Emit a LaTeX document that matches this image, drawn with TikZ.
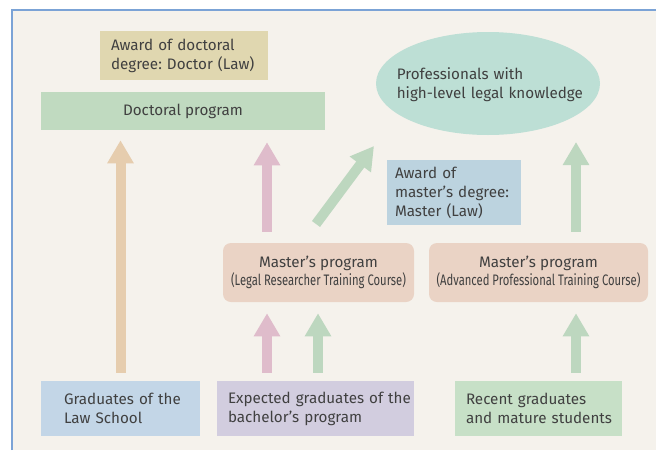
\documentclass[tikz,border=0pt]{standalone}
\usepackage{fontspec}
\usepackage{graphicx}
\setmainfont{Fira Sans}
\usetikzlibrary{arrows.meta,shapes.geometric}
\definecolor{bgc}{HTML}{F5F2EC}
\definecolor{framec}{HTML}{7BA3D6}
\definecolor{txtc}{HTML}{404040}
\definecolor{awdc}{HTML}{E0D7B0}
\definecolor{docc}{HTML}{C0DAC0}
\definecolor{ellc}{HTML}{BDDFD5}
\definecolor{awmc}{HTML}{BCD3DF}
\definecolor{masc}{HTML}{EAD3C5}
\definecolor{gradc}{HTML}{C3D6E7}
\definecolor{expc}{HTML}{D2CDDF}
\definecolor{recc}{HTML}{C7E0C7}
\definecolor{orac}{HTML}{E6CDAE}
\definecolor{pinkc}{HTML}{DFBCCB}
\definecolor{grnc}{HTML}{BDD7BF}
\newcommand{\cond}[1]{\scalebox{0.74}[1]{#1}}
\newcommand{\nb}[1]{\mbox{#1}}
\tikzset{
  box/.style={draw=none, rectangle, inner ysep=0pt, text=txtc,
    font=\fontsize{11.4pt}{14.25pt}\selectfont\frenchspacing},
  bigarrow/.style={line width=7.5pt, -{Triangle[width=18.75pt,length=17.25pt]}},
}
\begin{document}
\begin{tikzpicture}[x=0.75pt,y=-0.75pt]
\useasboundingbox (0,0) rectangle (656,450);
\fill[white] (0,0) rectangle (656,450);
\fill[bgc] (12,10) rectangle (656,450);
\draw[framec, line width=1.5pt] (12,450) -- (12,10) -- (656,10);

% nodes
\node[box, fill=awdc, minimum width=126pt, minimum height=36.75pt,
  text width=109.5pt, inner xsep=8.25pt, align=left] (awd) at (184,55.5)
  {\nb{Award of doctoral}\\\nb{degree: Doctor (Law)}};
\node[box, fill=docc, minimum width=213pt, minimum height=28.5pt, align=center] (doc) at (183,111)
  {Doctoral program};
\node[box, ellipse, fill=ellc, minimum width=168pt, minimum height=77.25pt, inner sep=0pt] (ell) at (488,83.5) {};
\node[box, text width=139pt, align=left] (elltext) at (489.5,84.5)
  {\nb{Professionals with}\\\nb{high-level legal knowledge}};
\node[box, fill=awmc, minimum width=100.5pt, minimum height=48.75pt,
  text width=88.5pt, inner xsep=6pt, align=left] (awm) at (454,192.5)
  {\nb{Award of}\\\nb{master's degree:}\\\nb{Master (Law)}};
\node[box, fill=masc, rounded corners=6pt, minimum width=143.25pt, minimum height=44.25pt, align=center] (m1) at (318.5,272.5)
  {Master's program\\[-1pt]{\cond{(Legal Researcher Training Course)}}};
\node[box, fill=masc, rounded corners=6pt, minimum width=164.25pt, minimum height=44.25pt, align=center] (m2) at (538.5,272.5)
  {Master's program\\[-1pt]{\cond{(Advanced Professional Training Course)}}};
\node[box, fill=gradc, minimum width=119.25pt, minimum height=41.25pt,
  text width=84.75pt, inner xsep=17.25pt, align=left] (grad) at (120.5,408.5)
  {\nb{Graduates of the}\\\nb{Law School}};
\node[box, fill=expc, minimum width=147.75pt, minimum height=41.25pt,
  text width=131.25pt, inner xsep=8.25pt, align=left] (exp) at (315.5,408.5)
  {\nb{Expected graduates of the}\\\nb{bachelor's program}};
\node[box, fill=recc, minimum width=125.25pt, minimum height=41.25pt,
  text width=108.75pt, inner xsep=8.25pt, align=left] (rec) at (538.5,408.5)
  {\nb{Recent graduates}\\\nb{and mature students}};

% arrow x positions
\coordinate (xa) at (120.5,0);
\coordinate (xp) at (267,0);
\coordinate (xg) at (318,0);
\coordinate (xr) at (576,0);
\coordinate (d1) at (316,224);
\coordinate (d2) at (374,146);
\coordinate (r2) at (576,142);

\draw[bigarrow, orac, shorten <=6pt, shorten >=7.5pt] (grad.north -| xa) -- (doc.south -| xa);
\draw[bigarrow, pinkc, shorten <=8.25pt, shorten >=9pt] (m1.north -| xp) -- (doc.south -| xp);
\draw[bigarrow, grnc] (d1) -- (d2);
\draw[bigarrow, grnc, shorten <=8.25pt] (m2.north -| xr) -- (r2);
\draw[bigarrow, pinkc, shorten <=6pt, shorten >=8.25pt] (exp.north -| xp) -- (m1.south -| xp);
\draw[bigarrow, grnc, shorten <=6pt, shorten >=8.25pt] (exp.north -| xg) -- (m1.south -| xg);
\draw[bigarrow, grnc, shorten <=6pt, shorten >=8.25pt] (rec.north -| xr) -- (m2.south -| xr);
\end{tikzpicture}
\end{document}
